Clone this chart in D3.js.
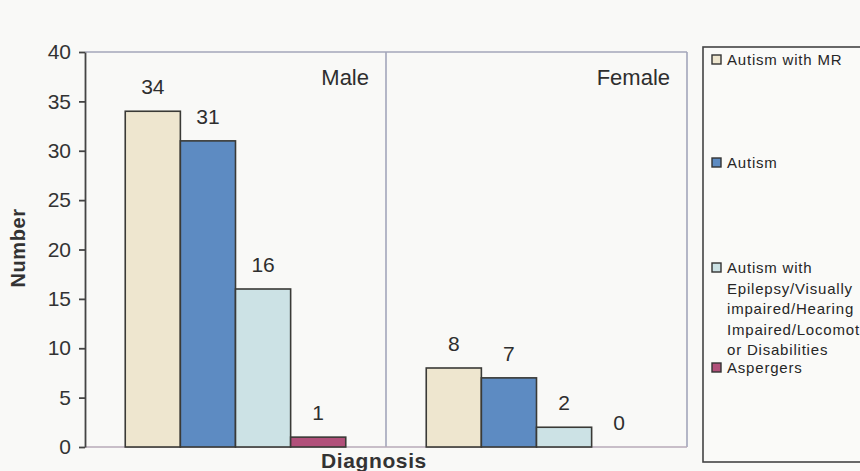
<!DOCTYPE html>
<html>
<head>
<meta charset="utf-8">
<script src="https://cdn.jsdelivr.net/npm/d3@7"></script>
<style>
  html, body { margin: 0; padding: 0; background: #f9f9f7; }
  svg { display: block; font-family: "Liberation Sans", Arial, sans-serif; }
</style>
</head>
<body>
<svg id="chart" width="860" height="471"></svg>
<script>
// Diagnosis counts by gender
const genders = ["Male", "Female"];
const series = ["Autism with MR", "Autism", "Autism with Epilepsy", "Aspergers"];
const maleValues = [34, 31, 16, 1];
const femaleValues = [8, 7, 2, 0];
const yTicks = [0, 5, 10, 15, 20, 25, 30, 35, 40];
const legendLines = [
  ["Autism with MR"],
  ["Autism"],
  ["Autism with", "Epilepsy/Visually", "impaired/Hearing", "Impaired/Locomot", "or Disabilities"],
  ["Aspergers"]
];
const colors = ["#eee6cf", "#5d8bc2", "#cce2e5", "#b1507a"];

const valuesByGender = { Male: maleValues, Female: femaleValues };

const svg = d3.select("#chart");
const plot = { left: 85, right: 687, top: 52, bottom: 447 };

const y = d3.scaleLinear().domain([0, 40]).range([plot.bottom, plot.top]);
const x0 = d3.scaleBand().domain(genders).range([plot.left, plot.right]).paddingInner(0).paddingOuter(0);
const x1 = d3.scaleBand().domain(series).range([0, x0.bandwidth()]).paddingInner(0).paddingOuter(0.73);

// Plot frame: top edge, right edge, gender divider, baseline
const frame = svg.append("g");
frame.append("line").attr("x1", plot.left).attr("x2", plot.right).attr("y1", plot.top).attr("y2", plot.top)
  .attr("stroke", "#a3a6ba").attr("stroke-width", 1.6);
frame.append("line").attr("x1", plot.right).attr("x2", plot.right).attr("y1", plot.top).attr("y2", plot.bottom)
  .attr("stroke", "#a3a6ba").attr("stroke-width", 1.6);
frame.append("line").attr("x1", x0("Female")).attr("x2", x0("Female")).attr("y1", plot.top).attr("y2", plot.bottom)
  .attr("stroke", "#a3a6ba").attr("stroke-width", 1.6);
frame.append("line").attr("x1", plot.left).attr("x2", plot.right).attr("y1", plot.bottom).attr("y2", plot.bottom)
  .attr("stroke", "#b7aab8").attr("stroke-width", 1.6);

// Y axis
const yAxis = svg.append("g")
  .attr("transform", `translate(${plot.left},0)`)
  .call(d3.axisLeft(y).tickValues(yTicks).tickSize(6).tickPadding(8).tickSizeOuter(0));
yAxis.select(".domain").attr("stroke", "#444").attr("stroke-width", 1.8);
yAxis.selectAll(".tick line").attr("stroke", "#444").attr("stroke-width", 1.8);
yAxis.selectAll(".tick text")
  .attr("fill", "#333").attr("font-size", 21)
  .attr("font-family", "'Liberation Sans', Arial, sans-serif");

// Bars
const groups = svg.append("g").selectAll("g")
  .data(genders).join("g")
  .attr("transform", g => `translate(${x0(g)},0)`);

groups.selectAll("rect")
  .data(g => valuesByGender[g].map((v, i) => ({ v, s: series[i], i })))
  .join("rect")
  .attr("x", d => x1(d.s))
  .attr("width", x1.bandwidth())
  .attr("y", d => y(d.v))
  .attr("height", d => y(0) - y(d.v))
  .attr("fill", d => colors[d.i])
  .attr("stroke", d => d.v > 0 ? "#3a3a36" : "none")
  .attr("stroke-width", 1.6);

// Value labels
groups.selectAll("text.value")
  .data(g => valuesByGender[g].map((v, i) => ({ v, s: series[i] })))
  .join("text")
  .attr("class", "value")
  .attr("x", d => x1(d.s) + x1.bandwidth() / 2)
  .attr("y", d => y(d.v) - 17)
  .attr("text-anchor", "middle")
  .attr("font-size", 21)
  .attr("fill", "#2e2e2e")
  .text(d => d.v);

// Gender panel titles
svg.append("g").selectAll("text")
  .data(genders).join("text")
  .attr("x", g => x0(g) + x0.bandwidth() - 17)
  .attr("y", 85)
  .attr("text-anchor", "end")
  .attr("font-size", 22)
  .attr("fill", "#2e2e2e")
  .text(g => g);

// Axis titles
svg.append("text")
  .attr("transform", "translate(25,248) rotate(-90)")
  .attr("text-anchor", "middle")
  .attr("font-size", 20)
  .attr("font-weight", "bold")
  .attr("letter-spacing", 0.6)
  .attr("fill", "#333")
  .text("Number");

svg.append("text")
  .attr("x", 374)
  .attr("y", 468)
  .attr("text-anchor", "middle")
  .attr("font-size", 21)
  .attr("font-weight", "bold")
  .attr("letter-spacing", 0.6)
  .attr("fill", "#333")
  .text("Diagnosis");

// Legend
const legend = svg.append("g");
legend.append("rect")
  .attr("x", 703).attr("y", 47)
  .attr("width", 170).attr("height", 415)
  .attr("fill", "#fafaf8")
  .attr("stroke", "#444").attr("stroke-width", 1.6);

const legendRowY = [60, 163, 268, 368];
const lineStep = 20.5;
legendLines.forEach((lines, i) => {
  const cy = legendRowY[i];
  legend.append("rect")
    .attr("x", 712).attr("y", cy - 5)
    .attr("width", 9).attr("height", 9)
    .attr("fill", colors[i])
    .attr("stroke", "#333").attr("stroke-width", 1.4);
  lines.forEach((t, j) => {
    legend.append("text")
      .attr("x", 727)
      .attr("y", cy + j * lineStep + 5)
      .attr("font-size", 15)
      .attr("letter-spacing", 0.8)
      .attr("fill", "#262626")
      .text(t);
  });
});
</script>
</body>
</html>
